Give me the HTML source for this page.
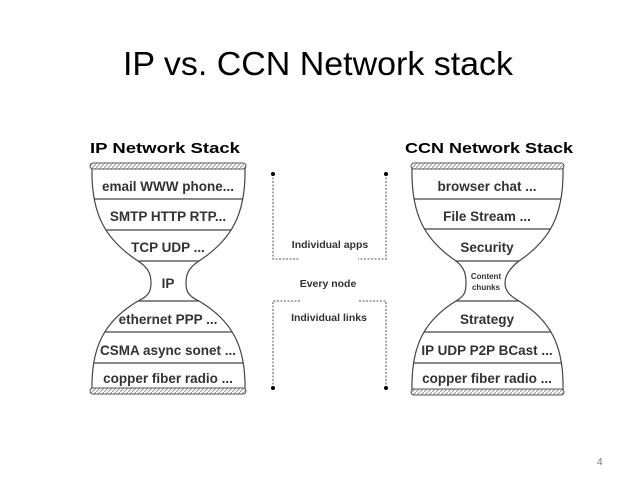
<!DOCTYPE html>
<html><head><style>body{margin:0;background:#fff}svg{display:block}</style></head><body>
<svg width="638" height="479" viewBox="0 0 638 479" xmlns="http://www.w3.org/2000/svg" font-family="Liberation Sans, Arial, sans-serif">
<defs>
<pattern id="hatch" width="4" height="4" patternUnits="userSpaceOnUse"><rect width="4" height="4" fill="#fff"/><path d="M0,4 L4,0" stroke="#999" stroke-width="1"/></pattern>
<clipPath id="cl"><path d="M92,168 C91,215 106,240 138,261 C149,268 151,275 151,283 C151,291 149,296 138,301 C106,320 91,345 92,390 L245,390 C246,345 231,320 199,301 C188,296 186,291 186,283 C186,275 188,268 199,261 C231,240 246,215 245,168 Z"/></clipPath>
<clipPath id="cr"><path d="M412,168 C411,215 425,240 456,261 C465,268 466,275 466,283 C466,291 465,296 456,301 C425,320 411,345 412,390 L563,390 C564,345 550,320 519,301 C510,296 505,291 505,283 C505,275 510,268 519,261 C550,240 564,215 563,168 Z"/></clipPath>
</defs>
<text x="123" y="75" font-size="33" textLength="390" lengthAdjust="spacingAndGlyphs" fill="#000">IP vs. CCN Network stack</text>
<text x="90" y="153" font-size="15" font-weight="bold" textLength="150" lengthAdjust="spacingAndGlyphs">IP Network Stack</text>
<text x="405" y="153" font-size="15" font-weight="bold" textLength="168" lengthAdjust="spacingAndGlyphs">CCN Network Stack</text>

<g fill="none" stroke="#444" stroke-width="1.2">
<path d="M92,168 C91,215 106,240 138,261 C149,268 151,275 151,283 C151,291 149,296 138,301 C106,320 91,345 92,390 M245,168 C246,215 231,240 199,261 C188,268 186,275 186,283 C186,291 188,296 199,301 C231,320 246,345 245,390"/>
<path d="M412,168 C411,215 425,240 456,261 C465,268 466,275 466,283 C466,291 465,296 456,301 C425,320 411,345 412,390 M563,168 C564,215 550,240 519,261 C510,268 505,275 505,283 C505,291 510,296 519,301 C550,320 564,345 563,390"/>
<g clip-path="url(#cl)"><path d="M80,199H260M80,230H260M80,261H260M80,301H260M80,332H260M80,363H260"/></g>
<g clip-path="url(#cr)"><path d="M400,199H580M400,229H580M400,261H580M400,301H580M400,332H580M400,363H580"/></g>
</g>
<rect x="90" y="163" width="156" height="6" rx="3" fill="url(#hatch)" stroke="#555"/>
<rect x="90" y="388" width="156" height="6" rx="3" fill="url(#hatch)" stroke="#555"/>
<rect x="411" y="163" width="153" height="6" rx="3" fill="url(#hatch)" stroke="#555"/>
<rect x="411" y="389" width="153" height="6" rx="3" fill="url(#hatch)" stroke="#555"/>

<g font-size="13.5" font-weight="bold" fill="#333" text-anchor="middle">
<text x="168" y="191">email WWW phone...</text>
<text x="168" y="221">SMTP HTTP RTP...</text>
<text x="168" y="252">TCP UDP ...</text>
<text x="168" y="288">IP</text>
<text x="168" y="324">ethernet PPP ...</text>
<text x="168" y="355">CSMA async sonet ...</text>
<text x="168" y="383">copper fiber radio ...</text>
<text x="487" y="191">browser chat ...</text>
<text x="487" y="221">File Stream ...</text>
<text x="487" y="252">Security</text>
<text x="487" y="324">Strategy</text>
<text x="487" y="355">IP UDP P2P BCast ...</text>
<text x="487" y="383">copper fiber radio ...</text>
<text x="486" y="279" font-size="8">Content</text>
<text x="486" y="290" font-size="8">chunks</text>
<text x="330" y="248" font-size="10.5">Individual apps</text>
<text x="328" y="287" font-size="10.5">Every node</text>
<text x="329" y="321" font-size="10.5">Individual links</text>
</g>

<g fill="none" stroke="#555" stroke-width="1" stroke-dasharray="2,1.5">
<path d="M273,174V259H300M386,174V259H358M273,388V301H300M386,388V301H358"/>
</g>
<g fill="#000"><circle cx="273" cy="174" r="2"/><circle cx="386" cy="174" r="2"/><circle cx="273" cy="388" r="2"/><circle cx="386" cy="388" r="2"/></g>
<text x="597" y="465" font-size="10" fill="#777">4</text>
</svg>
</body></html>
